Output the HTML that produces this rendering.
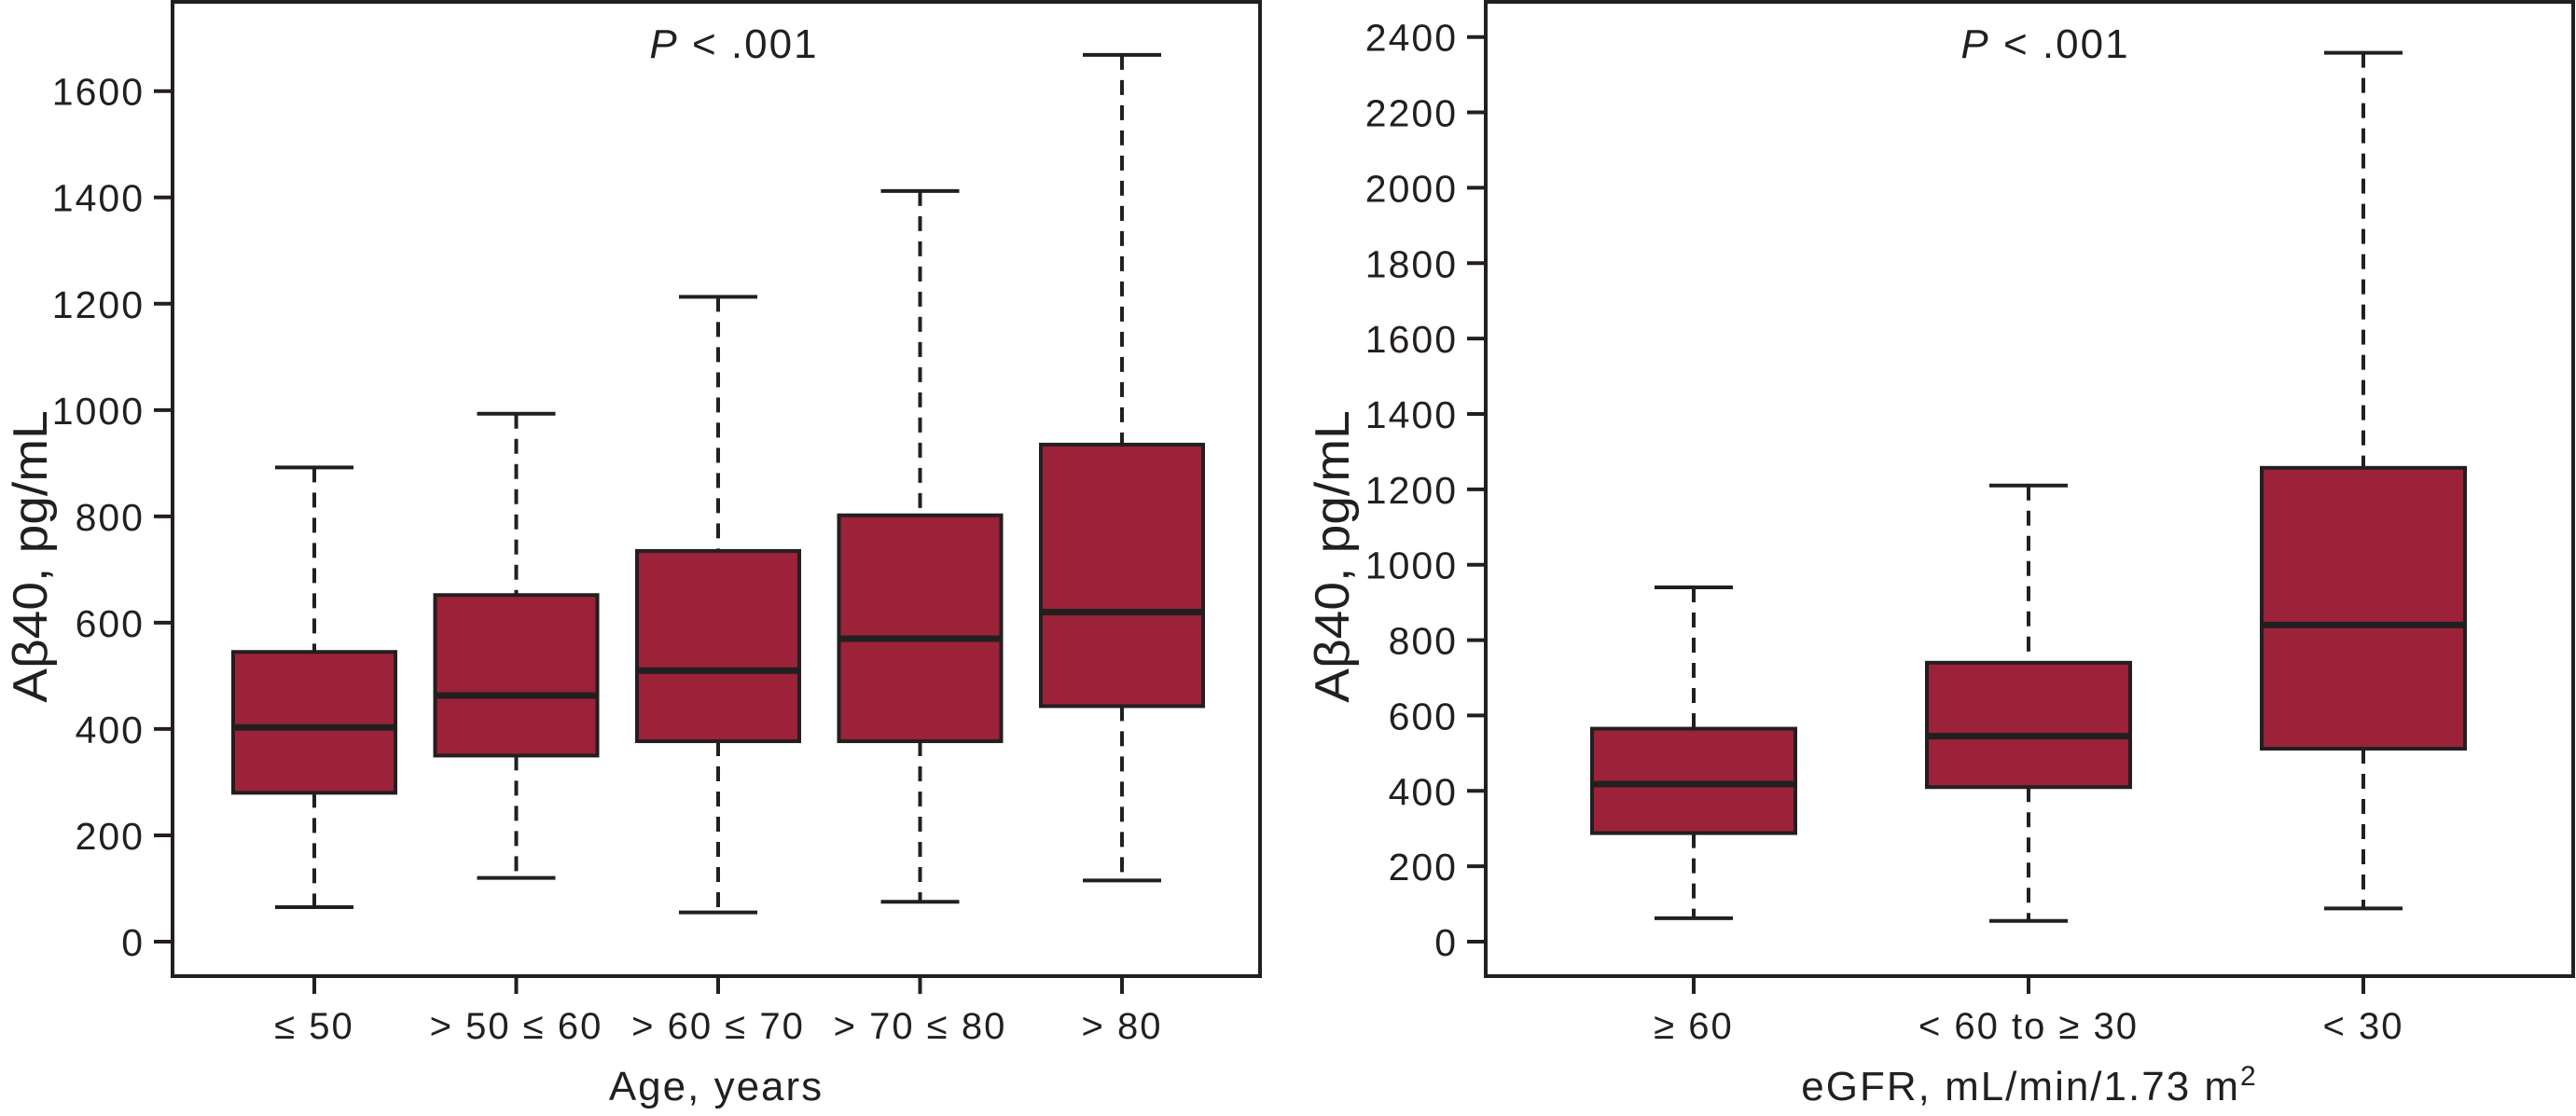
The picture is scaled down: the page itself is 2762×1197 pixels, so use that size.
<!DOCTYPE html>
<html><head><meta charset="utf-8"><style>
html,body{margin:0;padding:0;background:#fff;}
svg{display:block;}
text{font-family:"Liberation Sans","DejaVu Sans",sans-serif;fill:#231f20;}
</style></head>
<body>
<svg id="chart" width="2762" height="1197" viewBox="0 0 2762 1197" xmlns="http://www.w3.org/2000/svg"></svg>
<script>
// Left panel data (Age)
const ageCategories = ["≤ 50", "> 50 ≤ 60", "> 60 ≤ 70", "> 70 ≤ 80", "> 80"];
const ageWhiskerHigh = [892, 993, 1213, 1412, 1668];
const ageQ3 = [545, 652, 735, 802, 935];
const ageMedian = [403, 463, 510, 570, 620];
const ageQ1 = [280, 350, 377, 377, 443];
const ageWhiskerLow = [65, 120, 55, 75, 115];
const ageTicks = [0, 200, 400, 600, 800, 1000, 1200, 1400, 1600];

// Right panel data (eGFR)
const egfrCategories = ["≥ 60", "< 60 to ≥ 30", "< 30"];
const egfrWhiskerHigh = [940, 1210, 2358];
const egfrQ3 = [565, 740, 1257];
const egfrMedian = [418, 545, 840];
const egfrQ1 = [288, 410, 512];
const egfrWhiskerLow = [62, 55, 88];
const egfrTicks = [0, 200, 400, 600, 800, 1000, 1200, 1400, 1600, 1800, 2000, 2200, 2400];

const NS = "http://www.w3.org/2000/svg";
const svg = document.getElementById("chart");
const INK = "#231f20", FILL = "#9b2238";

function mk(tag, attrs, parent) {
  const el = document.createElementNS(NS, tag);
  for (const k in attrs) el.setAttribute(k, attrs[k]);
  (parent || svg).appendChild(el);
  return el;
}

function panel(cfg) {
  const g = mk("g", {});
  
  
  const y = v => cfg.y0 - (v - 0) * cfg.pxPer;
  const x = i => cfg.xFirst + i * cfg.xStep;
  const fr = mk("rect", {x: cfg.left, y: 2, width: cfg.right - cfg.left, height: 1047 - 2, fill: "none", stroke: INK, "stroke-width": 4}, g);
  
  
  cfg.ticks.forEach(t => {
    const tk = mk("line", {x1: cfg.left - 20, x2: cfg.left, y1: y(t), y2: y(t), stroke: INK, "stroke-width": 4}, g);
    
    
    const tl = mk("text", {x: cfg.left - 30, y: y(t) + 15, "text-anchor": "end", "font-size": 41, "letter-spacing": 2}, g);
    tl.textContent = t;
    
    
  });
  cfg.cats.forEach((c, i) => {
    const cx = x(i);
    const bg = mk("g", {}, g);
    
    
    mk("line", {x1: cx, x2: cx, y1: y(cfg.hi[i]), y2: y(cfg.q3[i]), stroke: INK, "stroke-width": 4, "stroke-dasharray": "16 11"}, bg);
    mk("line", {x1: cx, x2: cx, y1: y(cfg.q1[i]), y2: y(cfg.lo[i]), stroke: INK, "stroke-width": 4, "stroke-dasharray": "16 11"}, bg);
    mk("line", {x1: cx - 42, x2: cx + 42, y1: y(cfg.hi[i]), y2: y(cfg.hi[i]), stroke: INK, "stroke-width": 4}, bg);
    mk("line", {x1: cx - 42, x2: cx + 42, y1: y(cfg.lo[i]), y2: y(cfg.lo[i]), stroke: INK, "stroke-width": 4}, bg);
    mk("rect", {x: cx - cfg.bw / 2, y: y(cfg.q3[i]), width: cfg.bw, height: y(cfg.q1[i]) - y(cfg.q3[i]), fill: FILL, stroke: INK, "stroke-width": 4}, bg);
    mk("line", {x1: cx - cfg.bw / 2, x2: cx + cfg.bw / 2, y1: y(cfg.med[i]), y2: y(cfg.med[i]), stroke: INK, "stroke-width": 7}, bg);
    const xt = mk("line", {x1: cx, x2: cx, y1: 1047, y2: 1066, stroke: INK, "stroke-width": 4}, g);
    
    
    const xl = mk("text", {x: cx, y: 1114, "text-anchor": "middle", "font-size": 40, "letter-spacing": 2}, g);
    xl.textContent = c;
    
    
  });
  const p = mk("text", {x: cfg.pX, y: 62, "text-anchor": "middle", "font-size": 44, "letter-spacing": 2}, g);
  p.innerHTML = '<tspan font-style="italic">P</tspan> &lt; .001';
  
  
  const yt = mk("text", {x: 0, y: 0, "text-anchor": "middle", "font-size": 52, transform: "translate(" + cfg.yTitleX + ",597) rotate(-90) scale(1.06,1)"}, g);
  yt.textContent = "Aβ40, pg/mL";
  
  
  const xtt = mk("text", {x: (cfg.left + cfg.right) / 2, y: 1180, "text-anchor": "middle", "font-size": 44, "letter-spacing": 2}, g);
  xtt.innerHTML = cfg.xTitle;
  
  
}

panel({name: "age-panel", left: 185, right: 1351, y0: 1010, pxPer: (1010 - 97.7) / 1600,
  xFirst: 337, xStep: 216.5, bw: 174, cats: ageCategories, hi: ageWhiskerHigh, q3: ageQ3, med: ageMedian,
  q1: ageQ1, lo: ageWhiskerLow, ticks: ageTicks, pX: 787, yTitleX: 50, xTitle: "Age, years"});
panel({name: "egfr-panel", left: 1593, right: 2759, y0: 1010, pxPer: (1010 - 39.7) / 2400,
  xFirst: 1816, xStep: 359, bw: 218, cats: egfrCategories, hi: egfrWhiskerHigh, q3: egfrQ3, med: egfrMedian,
  q1: egfrQ1, lo: egfrWhiskerLow, ticks: egfrTicks, pX: 2193, yTitleX: 1446,
  xTitle: 'eGFR, mL/min/1.73 m<tspan font-size="30" dy="-16">2</tspan>'});
</script>
</body></html>
